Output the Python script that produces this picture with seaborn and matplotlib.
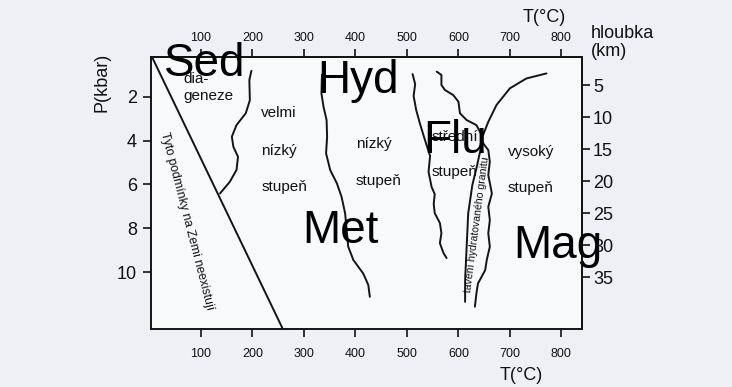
import matplotlib
matplotlib.use("Agg")
import matplotlib.pyplot as plt
import seaborn as sns

# ============================
# Data (T in °C, P in kbar)
# ============================

temp_ticks = [100, 200, 300, 400, 500, 600, 700, 800]
pressure_ticks = [2, 4, 6, 8, 10]
depth_ticks = [5, 10, 15, 20, 25, 30, 35]
KM_PER_KBAR = 3.42

# line limiting the conditions that do not exist on Earth
limit_T = [5, 259]
limit_P = [0.18, 12.6]

# diagenesis / very low grade boundary
diag_T = [198, 194, 195, 187, 169, 160, 163, 172, 169, 156, 137]
diag_P = [0.81, 1.23, 2.15, 2.75, 3.29, 3.82, 4.28, 4.74, 5.34, 5.88, 6.41]

# very low / low grade boundary
vlow_T = [335, 334, 338, 344, 345, 343, 351, 364, 373, 380, 383, 386, 396, 415, 425, 428]
vlow_P = [1.0, 1.84, 2.45, 3.06, 3.82, 4.58, 5.34, 5.95, 6.56, 7.32, 8.08, 8.84,
          9.45, 10.06, 10.59, 11.13]

# low / medium grade boundary
low_T = [511, 516, 513, 518, 525, 535, 545, 542, 548, 554, 552, 554, 564, 567, 564, 571, 577]
low_P = [0.96, 1.42, 1.96, 2.60, 3.20, 3.97, 4.70, 5.43, 6.12, 6.44, 6.89, 7.31,
         7.76, 8.22, 8.68, 9.13, 9.36]

# medium / high grade boundary
med_T = [558, 567, 567, 574, 590, 600, 603, 616, 635, 645, 648, 658, 661, 658,
         665, 658, 661, 658, 661, 655, 652, 638, 635, 632]
med_P = [0.85, 1.00, 1.46, 1.69, 1.92, 2.22, 2.75, 3.06, 3.29, 3.74, 4.12, 4.43,
         4.96, 5.57, 6.41, 7.02, 7.63, 8.23, 8.84, 9.45, 9.91, 10.52, 10.97, 11.58]

# melting of hydrated granite
melt_T = [771, 732, 700, 674, 658, 648, 642, 635, 627, 619, 616, 613, 613]
melt_P = [0.93, 1.16, 1.61, 2.37, 3.14, 3.74, 4.51, 5.26, 6.03, 7.32, 8.84, 10.37, 11.36]

# zone labels: (text, T, P)
zone_labels = [
    ("dia-", 65, 1.19), ("geneze", 65, 1.96),
    ("velmi", 217, 2.74), ("nízký", 217, 4.47), ("stupeň", 217, 6.12),
    ("nízký", 401, 4.16), ("stupeň", 401, 5.84),
    ("střední", 548, 3.84), ("stupeň", 548, 5.43),
    ("vysoký", 696, 4.52), ("stupeň", 696, 6.16),
]

# large overlay labels: (text, T, P) left / baseline
big_labels = [
    ("Sed", 28, 1.05), ("Hyd", 325, 1.83), ("Flu", 531, 4.57),
    ("Met", 296, 8.68), ("Mag", 706, 9.36),
]

# ============================
# Style
# ============================

sns.set_style("ticks")
plt.rcParams["font.family"] = ["Liberation Sans", "DejaVu Sans"]
plt.rcParams["text.color"] = "#111111"
plt.rcParams["xtick.color"] = "#111111"
plt.rcParams["ytick.color"] = "#111111"

W, H = 732, 387
fig = plt.figure(figsize=(W / 100, H / 100), dpi=100)
fig.patch.set_facecolor("#eef0f5")

ax = fig.add_axes([151 / W, 1 - 329 / H, (582 - 151) / W, (329 - 57) / H])
ax.set_facecolor("#f8f9fb")

# ============================
# Curves
# ============================

curves = [
    (limit_T, limit_P),
    (diag_T, diag_P),
    (vlow_T, vlow_P),
    (low_T, low_P),
    (med_T, med_P),
    (melt_T, melt_P),
]

for xs, ys in curves:
    sns.lineplot(x=xs, y=ys, sort=False, estimator=None,
                 color="#141414", linewidth=1.4, ax=ax)

ax.set_xlim(3, 840)
ax.set_ylim(12.6, 0.18)

# ============================
# Axes & ticks
# ============================

for s in ax.spines.values():
    s.set_linewidth(1.4)
    s.set_color("#141414")
    s.set_visible(True)

ax.set_xticks(temp_ticks)
ax.set_xticklabels([str(t) for t in temp_ticks], fontsize=9)
ax.set_yticks(pressure_ticks)
ax.set_yticklabels([str(p) for p in pressure_ticks], fontsize=13)
ax.tick_params(axis="x", direction="out", length=6, width=1.2, pad=8)
ax.tick_params(axis="y", direction="out", length=6, width=1.2, pad=4)

top = ax.secondary_xaxis("top")
top.set_xticks(temp_ticks)
top.set_xticklabels([str(t) for t in temp_ticks], fontsize=9)
top.tick_params(direction="out", length=6, width=1.2, pad=3)
top.spines["top"].set_linewidth(1.4)

right = ax.secondary_yaxis("right", functions=(lambda p: p * KM_PER_KBAR,
                                               lambda d: d / KM_PER_KBAR))
right.set_yticks(depth_ticks)
right.set_yticklabels([str(d) for d in depth_ticks], fontsize=13)
right.tick_params(direction="out", length=6, width=1.2, pad=2)
right.spines["right"].set_linewidth(1.4)

ax.set_xlabel("")
ax.set_ylabel("")

# ============================
# Axis titles
# ============================

fig.text(544 / W, 1 - 18 / H, "T(°C)", fontsize=13, ha="center", va="center")
fig.text(521 / W, 1 - 376 / H, "T(°C)", fontsize=13, ha="center", va="center")
fig.text(591 / W, 1 - 33 / H, "hloubka", fontsize=13, ha="left", va="center")
fig.text(591 / W, 1 - 52 / H, "(km)", fontsize=13, ha="left", va="center")
fig.text(102 / W, 1 - 82 / H, "P(kbar)", fontsize=13, rotation=90,
         ha="center", va="center")

# ============================
# Annotations
# ============================

for txt, t, p in zone_labels:
    ax.text(t, p, txt, fontsize=11, ha="left", va="center")

ax.text(73, 7.67, "Tyto podmínky na Zemi neexistují", fontsize=8.8,
        rotation=-75.5, rotation_mode="anchor", ha="center", va="center")
ax.text(636, 7.81, "tavení hydratovaného granitu", fontsize=7.6,
        rotation=82.5, rotation_mode="anchor", ha="center", va="center")

for txt, t, p in big_labels:
    ax.text(t, p, txt, fontsize=33, ha="left", va="baseline",
            color="black", clip_on=False, zorder=5)

plt.savefig("out.png", dpi=100, facecolor=fig.get_facecolor())
plt.close()
